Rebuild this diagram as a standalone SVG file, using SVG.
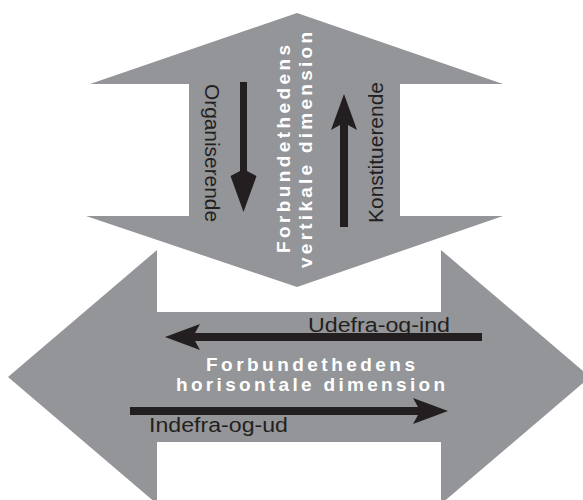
<svg xmlns="http://www.w3.org/2000/svg" width="583" height="500" viewBox="0 0 583 500">
  <style>
    .band { fill: #939598; }
    .arr { fill: #231f20; }
    .lbl { font-family: "Liberation Sans", Arial, sans-serif; font-size: 20.5px; fill: #231f20; }
    .title { font-family: "Liberation Sans", Arial, sans-serif; font-size: 19px; font-weight: bold; fill: #ffffff; }
  </style>
  <rect width="583" height="500" fill="#ffffff"/>
  <g id="horizontal-dimension">
    <polygon class="band" points="8,377 157,250 157,312 441,312 441,250 590,377 441,504 441,442 157,442 157,504"/>
    <text class="title" x="206" y="371" textLength="209" lengthAdjust="spacing">Forbundethedens</text>
    <text class="title" x="176" y="391" textLength="269" lengthAdjust="spacing">horisontale dimension</text>
  </g>
  <g id="vertical-dimension">
    <polygon class="band" points="297,13 503,84 400,84 400,216 503,216 297,287 86,216 189,216 189,84 90,84"/>
    <text class="title" transform="translate(290,253) rotate(-90)" x="0" y="0" textLength="208" lengthAdjust="spacing">Forbundethedens</text>
    <text class="title" transform="translate(312,268) rotate(-90)" x="0" y="0" textLength="236" lengthAdjust="spacing">vertikale dimension</text>
  </g>
  <g id="connectors">
    <polygon id="organiserende-arrow" class="arr" points="240,82 247,82 247,171 256.5,176 243.5,212 230.5,176 240,171"/>
    <polygon id="konstituerende-arrow" class="arr" points="340,227 348,227 348,125 357,130 344,94 331,130 340,125"/>
    <polygon id="udefra-arrow" class="arr" points="482,333 195,333 200,324 165,337 200,350 195,341 482,341"/>
    <polygon id="indefra-arrow" class="arr" points="130,407 418,407 413,398 448,411 413,424 418,415 130,415"/>
  </g>
  <g id="labels">
    <text class="lbl" transform="translate(205,84) rotate(90)" x="0" y="0" textLength="138" lengthAdjust="spacingAndGlyphs">Organiserende</text>
    <text class="lbl" transform="translate(383,223) rotate(-90)" x="0" y="0" textLength="141" lengthAdjust="spacingAndGlyphs">Konstituerende</text>
    <text class="lbl" x="308" y="332" textLength="142" lengthAdjust="spacingAndGlyphs">Udefra-og-ind</text>
    <text class="lbl" x="149" y="432" textLength="139" lengthAdjust="spacingAndGlyphs">Indefra-og-ud</text>
  </g>
</svg>
